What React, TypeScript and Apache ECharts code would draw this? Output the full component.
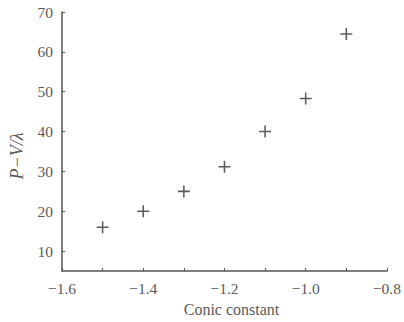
import React, { useEffect, useRef } from "react";
import * as echarts from "echarts";

const conic = [-1.5, -1.4, -1.3, -1.2, -1.1, -1.0, -0.9];
const pv = [16, 20, 25, 31.2, 40, 48.3, 64.5];
const yName = "P\u2212V/\u03bb";
const xName = "Conic constant";

const plus = "path://M4.35,0h1.3v4.35h4.35v1.3h-4.35v4.35h-1.3v-4.35h-4.35v-1.3h4.35z";
const fmtMinus = (v: number, d: number) => {
  const s = Math.abs(v).toFixed(d);
  return v < 0 ? "\u2212" + s : s;
};

export default function App() {
  const ref = useRef<HTMLDivElement>(null);
  useEffect(() => {
    if (!ref.current) return;
    const chart = echarts.init(ref.current, undefined, { renderer: "svg" });
    const axisColor = "#555";
    const textStyle = { fontFamily: "Liberation Serif, serif", fontSize: 15.5, color: "#5a5a5a" };
    chart.setOption({
      animation: false,
      backgroundColor: "#fff",
      grid: { left: 62, right: 13, top: 12, bottom: 50, containLabel: false },
      graphic: [
        {
          type: "text",
          x: 17,
          y: 156,
          rotation: Math.PI / 2,
          style: {
            text: yName,
            fontFamily: "Liberation Serif, serif",
            fontStyle: "italic",
            fontSize: 18,
            fill: "#5a5a5a",
            align: "center",
            verticalAlign: "middle",
          },
        },
      ],
      xAxis: {
        type: "value",
        min: -1.6,
        max: -0.8,
        interval: 0.2,
        name: xName,
        nameLocation: "middle",
        nameGap: 24,
        nameTextStyle: { ...textStyle, fontSize: 16, padding: [0, 0, 0, 14] },
        axisLine: { lineStyle: { color: axisColor, width: 1.5 } },
        axisTick: { inside: true, length: 3, lineStyle: { color: axisColor } },
        minorTick: { show: true, splitNumber: 2, length: 3, lineStyle: { color: axisColor } },
        splitLine: { show: false },
        axisLabel: { ...textStyle, margin: 9, formatter: (v: number) => fmtMinus(v, 1) },
      },
      yAxis: {
        type: "value",
        min: 5,
        max: 70,
        minInterval: 10,
        maxInterval: 10,
        axisLine: { show: true, lineStyle: { color: axisColor, width: 1.5 } },
        axisTick: { show: true, inside: true, length: 3, lineStyle: { color: axisColor } },
        splitLine: { show: false },
        axisLabel: { ...textStyle, margin: 9, showMinLabel: false, formatter: (v: number) => (v % 10 === 0 ? String(v) : "") },
      },
      series: [
        {
          type: "scatter",
          data: conic.map((c, i) => [c, pv[i]]),
          symbol: plus,
          symbolSize: 12,
          itemStyle: { color: "#333" },
        },
      ],
    });
    return () => chart.dispose();
  }, []);
  return <div ref={ref} style={{ width: 404, height: 322, position: "absolute", left: 0, top: 0 }} />;
}
